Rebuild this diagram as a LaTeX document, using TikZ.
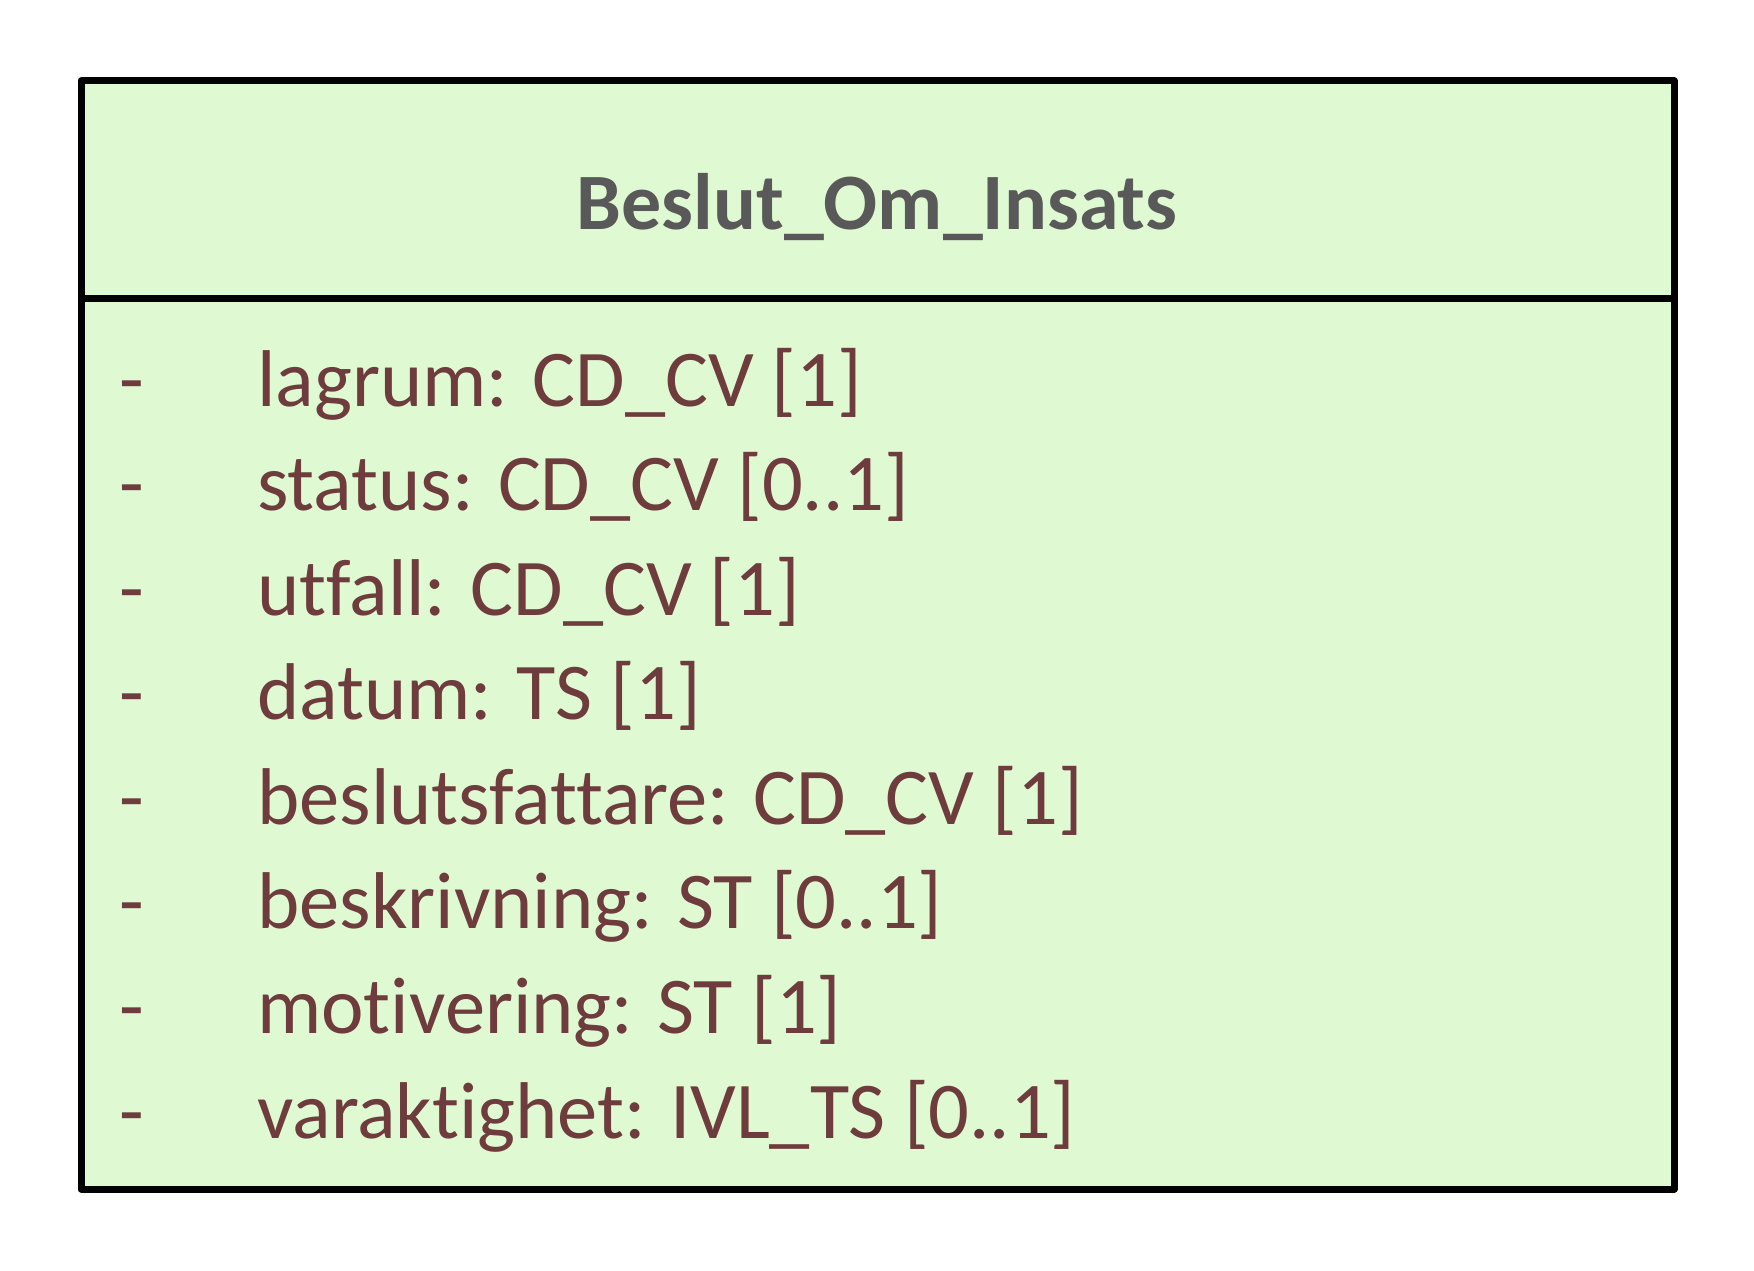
\documentclass[tikz,border=0pt]{standalone}
\usepackage{fontspec}
\setmainfont{Carlito}[Ligatures={NoCommon,NoRare}]
\definecolor{boxfill}{RGB}{223,249,211}
\definecolor{titlegray}{RGB}{89,89,89}
\definecolor{attrbrown}{RGB}{110,60,60}
\tikzset{
  classbox/.style={draw=black, line width=7pt, line join=round, fill=boxfill},
  divider/.style={draw=black, line width=7pt},
  titletext/.style={inner sep=0pt, anchor=base, text=titlegray, font=\fontsize{80}{96}\selectfont\bfseries},
  attrtext/.style={inner sep=0pt, anchor=base west, text=attrbrown, font=\fontsize{80.5}{96}\selectfont},
}
\begin{document}
\begin{tikzpicture}[x=1pt,y=-1pt]
\useasboundingbox (0,0) rectangle (1754,1271);
\fill[white] (0,0) rectangle (1754,1271);
\path[classbox] (81,81) rectangle (1674,1189);
\coordinate (dl) at (81,298);
\coordinate (dr) at (1674,298);
\draw[divider] (dl) -- (dr);
\node[titletext] (title) at (877,229) {Beslut\_Om\_Insats};
\foreach \i/\t in {0/{lagrum: CD\_CV [1]},
                   1/{status: CD\_CV [0..1]},
                   2/{utfall: CD\_CV [1]},
                   3/{datum: TS [1]},
                   4/{beslutsfattare: CD\_CV [1]},
                   5/{beskrivning: ST [0..1]},
                   6/{motivering: ST [1]},
                   7/{varaktighet: IVL\_TS [0..1]}} {
  \node[attrtext] (dash\i) at (119,{406+104.57*\i}) {-};
  \node[attrtext] (attr\i) at (257,{406+104.57*\i}) {\t};
}
\end{tikzpicture}
\end{document}
